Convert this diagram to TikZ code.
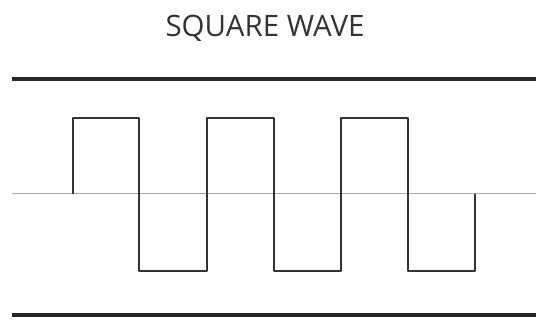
\documentclass[tikz,border=0pt]{standalone}
\usepackage{fontspec}
\setmainfont{Open Sans}
\begin{document}
\begin{tikzpicture}[x=1pt,y=-1pt,
  rule/.style={line width=4.5pt,black!85},
  axis/.style={line width=1pt,black!35},
  wave/.style={line width=2.4pt,black!80,line join=round}]
\useasboundingbox (0,0) rectangle (536,320);
\node[font=\fontsize{29.5}{33}\selectfont,text=black!80] (title) at (265,28) {SQUARE WAVE};
\coordinate (tl) at (12,79); \coordinate (tr) at (536,79);
\coordinate (bl) at (12,315); \coordinate (br) at (536,315);
\coordinate (ml) at (12,194); \coordinate (mr) at (536,194);
\draw[rule] (tl) -- (tr);
\draw[rule] (bl) -- (br);
\draw[axis] (ml) -- (mr);
\draw[wave] (73,194) -- (73,118) -- (139,118) -- (139,271) -- (207,271) -- (207,118) -- (274,118) -- (274,271) -- (341,271) -- (341,118) -- (408,118) -- (408,271) -- (475,271) -- (475,194);
\end{tikzpicture}
\end{document}
